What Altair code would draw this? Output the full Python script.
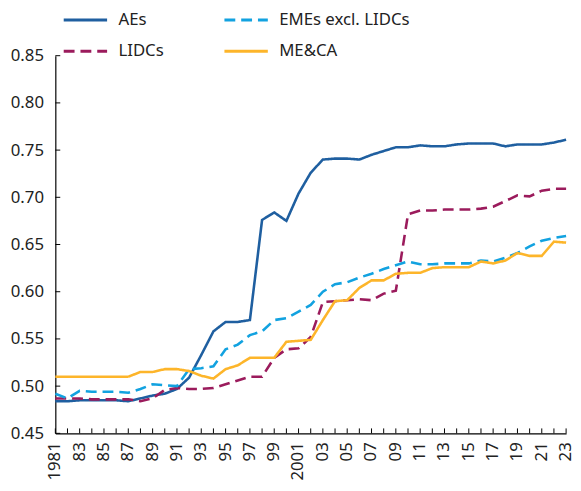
import altair as alt
import pandas as pd

years = list(range(1981, 2024))

aes = [0.484, 0.484, 0.485, 0.485, 0.485, 0.485, 0.484, 0.487, 0.490, 0.492,
       0.497, 0.509, 0.533, 0.558, 0.568, 0.568, 0.570, 0.676, 0.684, 0.675,
       0.704, 0.726, 0.740, 0.741, 0.741, 0.740, 0.745, 0.749, 0.753, 0.753,
       0.755, 0.754, 0.754, 0.756, 0.757, 0.757, 0.757, 0.754, 0.756, 0.756,
       0.756, 0.758, 0.761]
emes = [0.492, 0.487, 0.495, 0.494, 0.494, 0.494, 0.493, 0.497, 0.502, 0.501,
        0.500, 0.518, 0.519, 0.521, 0.539, 0.544, 0.554, 0.558, 0.570, 0.572,
        0.579, 0.586, 0.600, 0.608, 0.610, 0.615, 0.619, 0.624, 0.628, 0.632,
        0.629, 0.629, 0.630, 0.630, 0.630, 0.633, 0.632, 0.636, 0.641, 0.648,
        0.654, 0.657, 0.659]
lidcs = [0.487, 0.487, 0.487, 0.486, 0.486, 0.486, 0.486, 0.484, 0.487, 0.496,
         0.498, 0.497, 0.497, 0.498, 0.502, 0.506, 0.510, 0.510, 0.530, 0.539,
         0.540, 0.552, 0.589, 0.590, 0.591, 0.592, 0.591, 0.598, 0.601, 0.682,
         0.686, 0.686, 0.687, 0.687, 0.687, 0.688, 0.690, 0.696, 0.702, 0.701,
         0.707, 0.709, 0.709]
meca = [0.510, 0.510, 0.510, 0.510, 0.510, 0.510, 0.510, 0.515, 0.515, 0.518,
        0.518, 0.516, 0.511, 0.508, 0.518, 0.522, 0.530, 0.530, 0.530, 0.547,
        0.548, 0.549, 0.570, 0.590, 0.591, 0.604, 0.612, 0.612, 0.619, 0.620,
        0.620, 0.625, 0.626, 0.626, 0.626, 0.632, 0.630, 0.633, 0.641, 0.638,
        0.638, 0.653, 0.652]

# legend is filled column by column: column 1 = AEs, LIDCs; column 2 = EMEs, ME&CA
series_names = ["AEs", "LIDCs", "EMEs excl. LIDCs", "ME&CA"]
series_values = [aes, lidcs, emes, meca]
colors = ["#1f5fa0", "#9b1b5c", "#12a2e0", "#fdb52a"]
dashes = [[1, 0], [11, 6], [11, 6], [1, 0]]
y_tick_values = [0.45, 0.50, 0.55, 0.60, 0.65, 0.70, 0.75, 0.80, 0.85]
x_label_years = list(range(1981, 2024, 2))
x_label_texts = ["1981", "83", "85", "87", "89", "91", "93", "95", "97", "99",
                 "2001", "03", "05", "07", "09", "11", "13", "15", "17", "19",
                 "21", "23"]

rows = []
for name, vals in zip(series_names, series_values):
    for yr, v in zip(years, vals):
        rows.append({"year": yr, "series": name, "value": v})
df = pd.DataFrame(rows)

FONT = "Noto Sans"
TXT = "#222222"

x_scale = alt.Scale(domain=[1981, 2023], nice=False, zero=False)
y_scale = alt.Scale(domain=[0.45, 0.85], nice=False, zero=False)

legend = alt.Legend(
    title=None, orient="none", legendX=7, legendY=-60, columns=2,
    symbolType="stroke", symbolSize=1936, symbolStrokeWidth=3,
    labelFont=FONT, labelFontSize=17, labelColor=TXT, labelOffset=10,
    columnPadding=55, rowPadding=-7, padding=0,
)

x_axis = alt.Axis(values=x_label_years, labels=False, ticks=False, title=None)
y_axis = alt.Axis(values=y_tick_values, format=".2f", labelPadding=12, title=None)

lines = alt.Chart(df).mark_line(strokeWidth=2.6).encode(
    x=alt.X("year:Q", scale=x_scale, axis=x_axis),
    y=alt.Y("value:Q", scale=y_scale, axis=y_axis),
    color=alt.Color("series:N", scale=alt.Scale(domain=series_names, range=colors),
                    legend=legend, sort=series_names),
    strokeDash=alt.StrokeDash("series:N", scale=alt.Scale(domain=series_names, range=dashes),
                              legend=legend, sort=series_names),
)

xt = pd.DataFrame({"year": years})
x_ticks = alt.Chart(xt).mark_rule(color="black", strokeWidth=1, y2Offset=-5).encode(
    x=alt.X("year:Q", scale=x_scale, axis=x_axis),
    y=alt.datum(0.45),
    y2=alt.datum(0.45),
)

yt = pd.DataFrame({"value": y_tick_values})
y_ticks = alt.Chart(yt).mark_rule(color="black", strokeWidth=1, x2Offset=5).encode(
    y=alt.Y("value:Q", scale=y_scale, axis=y_axis),
    x=alt.datum(1981),
    x2=alt.datum(1981),
)

xl = pd.DataFrame({"year": x_label_years, "label": x_label_texts})
x_labels = alt.Chart(xl).mark_text(
    angle=270, align="right", baseline="middle", yOffset=9,
    font=FONT, fontSize=17, color=TXT,
).encode(
    x=alt.X("year:Q", scale=x_scale, axis=x_axis),
    y=alt.datum(0.45),
    text="label:N",
)

chart = alt.layer(lines, x_ticks, y_ticks, x_labels).properties(
    width=518, height=383,
    autosize=alt.AutoSizeParams(type="none"),
    padding={"left": 48, "top": 45, "right": 7, "bottom": 47},
).configure_view(stroke=None).configure_axis(
    domainColor="black", domainWidth=1.2, grid=False, ticks=False, tickSize=0,
    labelFont=FONT, labelFontSize=17, labelColor=TXT,
)

chart.save("out.html", embed_options={"renderer": "svg", "actions": False})
